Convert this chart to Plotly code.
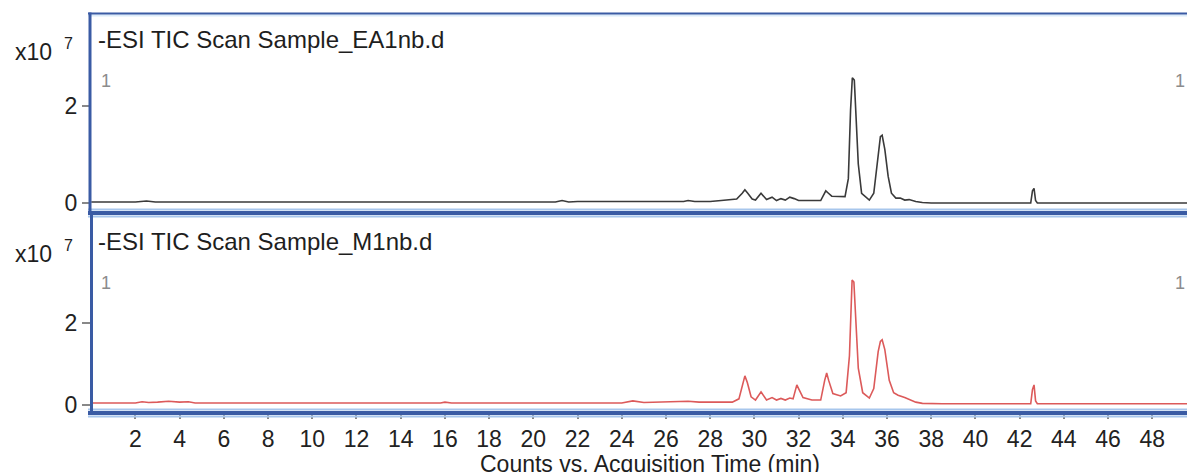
import plotly.graph_objects as go

# ---------------- data (intensities in units of 1e7 counts) ----------------
TIME_EA = [0.0, 2.0, 2.5, 2.9, 21.0, 21.3, 21.6, 22.0, 26.8, 27.0, 27.3, 28.0, 28.5, 29.2,
           29.45, 29.57, 29.7, 29.9, 30.05, 30.3, 30.55, 30.8, 31.0, 31.2, 31.4, 31.6, 31.8,
           32.0, 33.0, 33.15, 33.23, 33.35, 33.5, 34.1, 34.25, 34.35, 34.43, 34.52, 34.6,
           34.7, 34.85, 35.2, 35.4, 35.6, 35.7, 35.78, 35.9, 36.05, 36.2, 36.4, 36.6, 36.8,
           37.0, 37.3, 37.6, 38.0, 42.5, 42.58, 42.65, 42.72, 42.8, 49.6]
COUNTS_EA = [0.02, 0.02, 0.04, 0.02, 0.02, 0.05, 0.02, 0.03, 0.03, 0.05, 0.03, 0.03, 0.05, 0.08,
             0.20, 0.27, 0.20, 0.08, 0.06, 0.20, 0.07, 0.12, 0.05, 0.09, 0.06, 0.12, 0.09,
             0.05, 0.05, 0.20, 0.25, 0.20, 0.14, 0.13, 0.50, 1.90, 2.57, 2.52, 1.80,
             0.80, 0.20, 0.06, 0.20, 1.00, 1.36, 1.39, 1.10, 0.55, 0.20, 0.10, 0.10, 0.06,
             0.07, 0.03, 0.01, 0.00, 0.00, 0.25, 0.30, 0.05, 0.00, 0.00]

TIME_M1 = [0.0, 2.0, 2.3, 2.6, 3.0, 3.5, 4.0, 4.4, 4.7, 15.8, 16.0, 16.3, 24.0, 24.5, 25.0,
           26.5, 27.0, 27.5, 29.0, 29.3, 29.48, 29.57, 29.68, 29.85, 30.05, 30.3, 30.55, 30.8,
           31.0, 31.2, 31.4, 31.6, 31.75, 31.85, 31.92, 32.0, 32.2, 32.6, 33.0, 33.18, 33.27,
           33.36, 33.55, 33.9, 34.15, 34.3, 34.42, 34.5, 34.6, 34.7, 34.9, 35.2, 35.4, 35.6,
           35.7, 35.78, 35.9, 36.1, 36.3, 36.5, 36.8, 37.0, 37.3, 37.6, 38.5, 42.5, 42.58,
           42.65, 42.72, 42.8, 49.6]
COUNTS_M1 = [0.05, 0.05, 0.08, 0.06, 0.07, 0.09, 0.07, 0.08, 0.05, 0.05, 0.07, 0.05, 0.05, 0.10, 0.06,
             0.07, 0.09, 0.07, 0.07, 0.15, 0.55, 0.71, 0.55, 0.20, 0.12, 0.32, 0.12, 0.18,
             0.12, 0.16, 0.12, 0.17, 0.15, 0.40, 0.49, 0.40, 0.18, 0.12, 0.12, 0.60, 0.78,
             0.60, 0.28, 0.22, 0.30, 1.20, 3.05, 3.00, 2.10, 0.90, 0.30, 0.17, 0.40, 1.30,
             1.55, 1.59, 1.35, 0.60, 0.30, 0.24, 0.18, 0.14, 0.07, 0.04, 0.03, 0.03, 0.38,
             0.49, 0.10, 0.03, 0.03]

X_TICKS = list(range(2, 50, 2))
Y_TICKS = [0, 2]
Y_TICK_TEXT = ["0", "2"]
TITLE_TOP = "-ESI TIC Scan Sample_EA1nb.d"
TITLE_BOTTOM = "-ESI TIC Scan Sample_M1nb.d"
X_TITLE = "Counts vs. Acquisition Time (min)"

# ---------------- geometry helpers ----------------
W, H = 1187, 472
L, T, B = 91, 14, 60
PW, PH = W - L, H - T - B


def px(xp):
    return (xp - L) / PW


def py(yp):
    return (H - B - yp) / PH


FONT = "Liberation Sans, Arial, sans-serif"
DARK_BLUE = "#3a5ba4"
LIGHT_BLUE = "#a7c6ec"

fig = go.Figure()
fig.add_trace(go.Scatter(x=TIME_EA, y=COUNTS_EA, mode="lines", xaxis="x2", yaxis="y",
                         line=dict(color="#3a3a3a", width=1.6), showlegend=False))
fig.add_trace(go.Scatter(x=TIME_M1, y=COUNTS_M1, mode="lines", xaxis="x", yaxis="y2",
                         line=dict(color="#dc5a5a", width=1.6), showlegend=False))

yaxis_common = dict(tickvals=Y_TICKS, ticktext=Y_TICK_TEXT, ticks="outside", ticklen=8,
                    tickcolor="#888", tickwidth=1.5, showgrid=False, zeroline=False,
                    showline=False, automargin=False,
                    tickfont=dict(family=FONT, size=23, color="#222"))

fig.update_layout(
    template="none",
    width=W, height=H,
    margin=dict(l=L, r=0, t=T, b=B, autoexpand=False),
    paper_bgcolor="white", plot_bgcolor="white",
    xaxis=dict(domain=[0, 1], anchor="y2", range=[-0.01, 49.57], tickvals=X_TICKS,
               ticks="outside", ticklen=6, tickcolor="#888", tickwidth=1.5,
               showgrid=False, zeroline=False, showline=False, automargin=False,
               tickfont=dict(family=FONT, size=23, color="#222")),
    xaxis2=dict(domain=[0, 1], anchor="y", matches="x", showticklabels=False, ticks="",
                showgrid=False, zeroline=False, showline=False, automargin=False),
    yaxis=dict(domain=[py(211), 1.0], range=[-0.164, 3.877], **yaxis_common),
    yaxis2=dict(domain=[0, py(216)], range=[-0.171, 4.61], **yaxis_common),
)

shapes = []


def hline(y, color, width, x0=88, x1=1200):
    shapes.append(dict(type="line", xref="paper", yref="paper", x0=px(x0), x1=px(x1),
                       y0=py(y), y1=py(y), line=dict(color=color, width=width)))


def vline(x, y0, y1, color, width):
    shapes.append(dict(type="line", xref="paper", yref="paper", x0=px(x), x1=px(x),
                       y0=py(y0), y1=py(y1), line=dict(color=color, width=width)))


# top panel frame
hline(15.5, "#dcecfa", 2)
hline(13.5, DARK_BLUE, 2)
hline(209.5, LIGHT_BLUE, 2)
hline(216.5, LIGHT_BLUE, 2)
hline(213, DARK_BLUE, 4)
# bottom panel frame
hline(409.5, LIGHT_BLUE, 2)
hline(416.5, LIGHT_BLUE, 2)
hline(413, DARK_BLUE, 4)
vline(90, 12.5, 215, DARK_BLUE, 3)
vline(91.5, 215, 415, DARK_BLUE, 3)
fig.update_layout(shapes=shapes)

ann = []


def text(t, x, y, size, xanchor="left", color="#1e1e1e"):
    ann.append(dict(text=t, xref="paper", yref="paper", x=px(x), y=py(y), xanchor=xanchor,
                    yanchor="middle", showarrow=False,
                    font=dict(family=FONT, size=size, color=color)))


for title, ty in [(TITLE_TOP, 39), (TITLE_BOTTOM, 241)]:
    text(title, 96, ty, 24)
    text("x10", 13, ty + 13, 23)
    text("7", 62, ty + 4, 16)
    text("1", 99, ty + 42, 18, color="#8c8c8c")
    text("1", 1187, ty + 42, 18, xanchor="right", color="#8c8c8c")

text(X_TITLE, 650, 464, 23, xanchor="center")
fig.update_layout(annotations=ann)

fig.write_html("out.html", config={"displayModeBar": False},
               post_script="document.body.style.margin='0px';document.body.style.overflow='hidden';")
